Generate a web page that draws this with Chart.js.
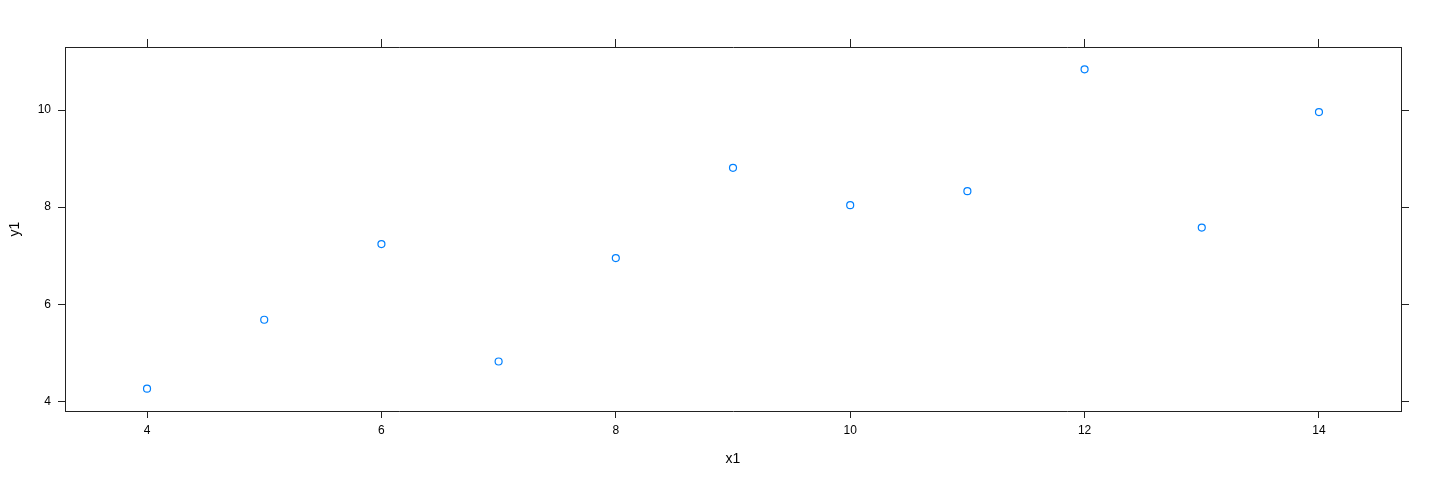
<!DOCTYPE html>
<html>
<head>
<meta charset="utf-8">
<script src="https://cdn.jsdelivr.net/npm/chart.js@4"></script>
<style>
  html, body { margin: 0; padding: 0; background: #fff; }
  #wrap { width: 1440px; height: 480px; }
</style>
</head>
<body>
<div id="wrap"><canvas id="anscombeChart"></canvas></div>
<script>
const x1 = [10, 8, 13, 9, 11, 14, 6, 4, 12, 7, 5];
const y1 = [8.04, 6.95, 7.58, 8.81, 8.33, 9.96, 7.24, 4.26, 10.84, 4.82, 5.68];
const xTicks = [4, 6, 8, 10, 12, 14];
const yTicks = [4, 6, 8, 10];

const axisColor = "#222";
const fontFamily = "'Liberation Sans', Arial, sans-serif";

const fixTicks = (values) => (scale) => {
  scale.ticks = values.map((v) => ({ value: v }));
};

const ctx = document.getElementById("anscombeChart").getContext("2d");

new Chart(ctx, {
  type: "scatter",
  data: {
    datasets: [
      {
        label: "y1",
        data: x1.map((x, i) => ({ x, y: y1[i] })),
        borderColor: "#0080ff",
        backgroundColor: "rgba(0,0,0,0)",
        pointRadius: 3.5,
        pointHoverRadius: 3.5,
        pointBorderWidth: 1.2,
        xAxisID: "x",
        yAxisID: "y",
      },
    ],
  },
  options: {
    responsive: true,
    maintainAspectRatio: false,
    animation: false,
    layout: { padding: 0 },
    plugins: {
      legend: { display: false },
      tooltip: { enabled: false },
    },
    scales: {
      x: {
        type: "linear",
        position: "bottom",
        min: 3.3,
        max: 14.7,
        afterBuildTicks: fixTicks(xTicks),
        afterFit: (s) => { s.height = 69; },
        grid: { drawOnChartArea: false, tickLength: 7, color: axisColor },
        border: { display: true, color: axisColor, width: 1 },
        ticks: { color: "#000", padding: 5, font: { family: fontFamily, size: 12 } },
        title: {
          display: true,
          text: "x1",
          color: "#000",
          font: { family: fontFamily, size: 14 },
          padding: { top: 0, bottom: 12 },
        },
      },
      x2: {
        type: "linear",
        position: "top",
        min: 3.3,
        max: 14.7,
        afterBuildTicks: fixTicks(xTicks),
        afterFit: (s) => { s.height = 47; },
        grid: { drawOnChartArea: false, tickLength: 8, color: axisColor },
        border: { display: true, color: axisColor, width: 1 },
        ticks: { display: false },
      },
      y: {
        type: "linear",
        position: "left",
        min: 3.8,
        max: 11.3,
        afterBuildTicks: fixTicks(yTicks),
        afterFit: (s) => { s.width = 65; },
        grid: { drawOnChartArea: false, tickLength: 7, color: axisColor },
        border: { display: true, color: axisColor, width: 1 },
        ticks: { color: "#000", padding: 7, font: { family: fontFamily, size: 12 } },
        title: {
          display: true,
          text: "y1",
          color: "#000",
          font: { family: fontFamily, size: 14 },
          padding: { top: 7, bottom: 0 },
        },
      },
      y2: {
        type: "linear",
        position: "right",
        min: 3.8,
        max: 11.3,
        afterBuildTicks: fixTicks(yTicks),
        afterFit: (s) => { s.width = 39; },
        grid: { drawOnChartArea: false, tickLength: 8, color: axisColor },
        border: { display: true, color: axisColor, width: 1 },
        ticks: { display: false },
      },
    },
  },
});
</script>
</body>
</html>
